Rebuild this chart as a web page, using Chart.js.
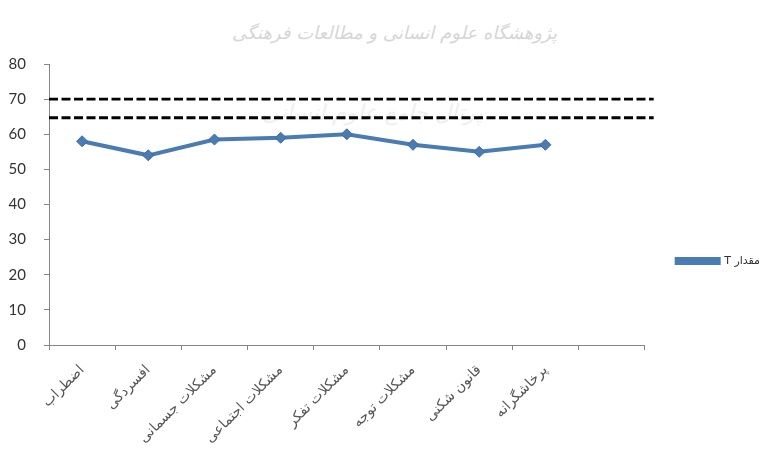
<!DOCTYPE html>
<html>
<head>
<meta charset="utf-8">
<script src="https://cdn.jsdelivr.net/npm/chart.js@4/dist/chart.umd.min.js"></script>
<style>
  body { margin: 0; background: #fff; }
  #wrap { position: relative; width: 770px; height: 464px; }
  .wm { position: absolute; direction: rtl; font-family: "DejaVu Sans", sans-serif; white-space: nowrap; }
  #wm1 { left: 232px; top: 22px; font-size: 18px; color: #d6d6d6; font-style: italic; }
  #wm2 { left: 262px; top: 100px; font-size: 22px; color: #efefef; font-style: italic; }
  canvas { position: absolute; left: 0; top: 0; }
</style>
</head>
<body>
<div id="wrap">
  <div class="wm" id="wm1">پژوهشگاه علوم انسانی و مطالعات فرهنگی</div>
  <div class="wm" id="wm2">پرتال جامع علوم انسانی</div>
  <canvas id="myChart" width="770" height="464"></canvas>
</div>
<script>
// categories (last slot is empty in the original)
const categories = ['اضطراب', 'افسردگی', 'مشکلات جسمانی', 'مشکلات اجتماعی', 'مشکلات تفکر', 'مشکلات توجه', 'قانون شکنی', 'پرخاشگرانه', ''];
const tValues = [58, 54, 58.5, 59, 60, 57, 55, 57];
const seriesName = 'مقدار T';
const cutoffLines = [70, 64.7];
const yTicks = { min: 0, max: 80, step: 10 };

// dashed cutoff lines across the plot
const cutoffPlugin = {
    id: 'cutoffs',
    afterDatasetsDraw(chart) {
        const ctx = chart.ctx;
        const y = chart.scales.y;
        const area = chart.chartArea;
        ctx.save();
        ctx.strokeStyle = '#000';
        ctx.lineWidth = 2.8;
        ctx.setLineDash([9, 3.5]);
        cutoffLines.forEach(v => {
            const py = y.getPixelForValue(v);
            ctx.beginPath();
            ctx.moveTo(area.left, py);
            ctx.lineTo(area.right + 9, py);
            ctx.stroke();
        });
        ctx.restore();
    }
};

const blue = '#4a7cb4';

new Chart(document.getElementById('myChart'), {
    type: 'line',
    data: {
        labels: categories,
        datasets: [{
            label: seriesName,
            data: tValues,
            borderColor: blue,
            backgroundColor: blue,
            borderWidth: 4,
            pointStyle: 'rectRot',
            pointRadius: 5.5,
            pointBackgroundColor: blue,
            pointBorderColor: '#3f6a9c',
            pointBorderWidth: 1,
            tension: 0
        }]
    },
    options: {
        responsive: false,
        animation: false,
        layout: { padding: { top: 64, left: 0, right: 0, bottom: 6 } },
        plugins: {
            tooltip: { enabled: false },
            legend: {
                position: 'right',
                textDirection: 'rtl',
                labels: {
                    boxWidth: 42,
                    boxHeight: 4,
                    padding: 32,
                    color: '#333',
                    font: { family: 'DejaVu Sans', size: 11 }
                }
            }
        },
        scales: {
            x: {
                offset: true,
                grid: { offset: true, drawOnChartArea: false, tickLength: 5, color: '#868686' },
                border: { color: '#868686' },
                ticks: {
                    minRotation: 45,
                    maxRotation: 45,
                    autoSkip: false,
                    padding: 12,
                    color: '#555',
                    font: { family: 'DejaVu Sans', size: 14 }
                },
                afterFit: s => { s.height = 113; }
            },
            y: {
                min: yTicks.min,
                max: yTicks.max,
                grid: { drawOnChartArea: false, tickLength: 5, color: '#868686' },
                border: { color: '#868686' },
                ticks: {
                    stepSize: yTicks.step,
                    padding: 18,
                    color: '#333',
                    font: { family: 'Lato', size: 15 }
                },
                afterFit: s => { s.width = 49; }
            }
        }
    },
    plugins: [cutoffPlugin]
});
</script>
</body>
</html>
